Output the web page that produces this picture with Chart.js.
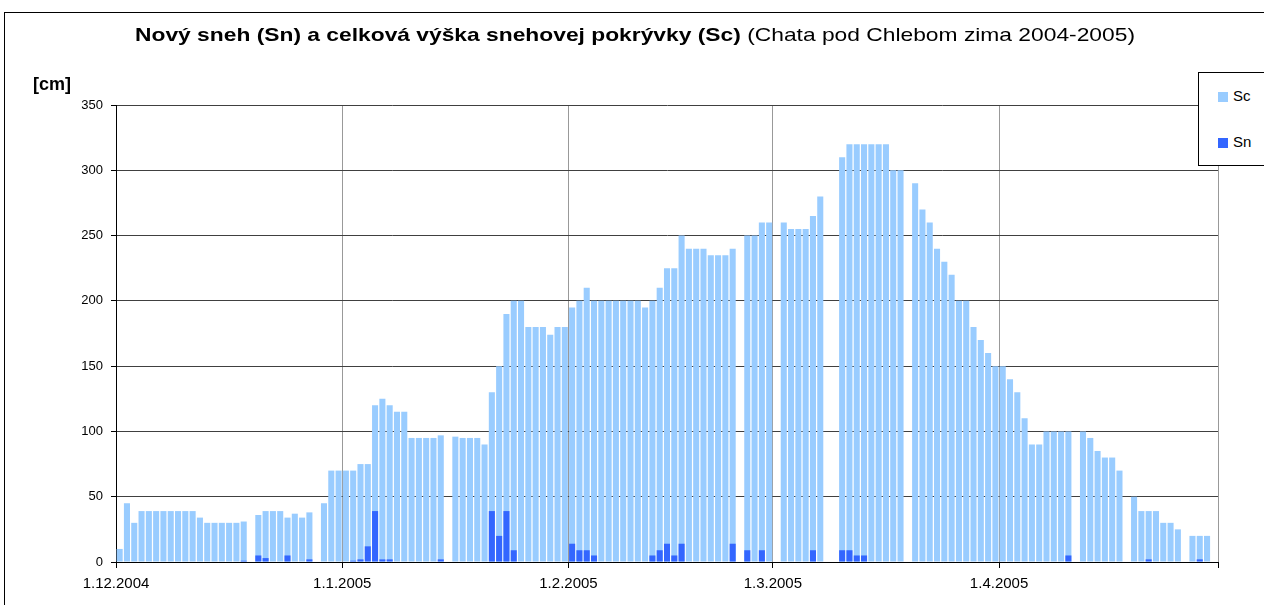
<!DOCTYPE html>
<html>
<head>
<meta charset="utf-8">
<script src="https://cdn.jsdelivr.net/npm/chart.js@4.4.1/dist/chart.umd.min.js"></script>
<style>
  html, body { margin: 0; padding: 0; background: #fff; overflow: hidden; }
  #wrap { position: relative; width: 1264px; height: 605px; font-family: "Liberation Sans", Arial, sans-serif; color: #000; }
  #frame { position: absolute; left: 4px; top: 12px; width: 1400px; height: 800px; border-left: 1px solid #000; border-top: 1px solid #000; }
  #chartBox { position: absolute; left: 0; top: 0; width: 1264px; height: 605px; }
  #title { position: absolute; left: 135px; top: 24px; font-size: 19px; white-space: nowrap; transform-origin: 0 0; }
  #title b { font-weight: bold; }
  #unit { position: absolute; left: 33px; top: 74px; font-size: 18px; font-weight: bold; }
  #legend { position: absolute; left: 1198px; top: 72px; width: 120px; height: 92px; border: 1px solid #000; background: #fff; font-size: 15px; }
  .item { position: absolute; left: 19px; height: 16px; line-height: 16px; }
  .sw { display: inline-block; width: 10px; height: 10px; margin-right: 5px; vertical-align: -1px; }
</style>
</head>
<body>
<div id="wrap">
  <div id="frame"></div>
  <div id="chartBox"><canvas id="snowChart"></canvas></div>
  <div id="title"><b>Nový sneh (Sn) a celková výška snehovej pokrývky (Sc)</b> (Chata pod Chlebom zima 2004-2005)</div>
  <div id="unit">[cm]</div>
  <div id="legend">
    <div class="item" style="top:15px"><span class="sw" style="background:#99CCFF"></span>Sc</div>
    <div class="item" style="top:61px"><span class="sw" style="background:#3366FF"></span>Sn</div>
  </div>
</div>
<script>
// --- DATA ---
// one value per day, 1.12.2004 .. 30.4.2005 (null = no measurement)
const monthLabels = ['1.12.2004', '1.1.2005', '1.2.2005', '1.3.2005', '1.4.2005'];
const monthDays = [31, 31, 28, 31, 30];

// Sc - total snow depth [cm]
const sc = [
    10, 45, 30, 39, 39, 39, 39, 39, 39, 39, 39, 34, 30, 30, 30, 30, 30, 31, null, 36, 39, 39, 39, 34, 37, 34, 38, null, 45, 70, 70,
    70, 70, 75, 75, 120, 125, 120, 115, 115, 95, 95, 95, 95, 97, null, 96, 95, 95, 95, 90, 130, 150, 190, 200, 200, 180, 180, 180, 174, 180, 180,
    195, 200, 210, 200, 200, 200, 200, 200, 200, 200, 195, 200, 210, 225, 225, 250, 240, 240, 240, 235, 235, 235, 240, null, 250, 250, 260, 260,
    null, 260, 255, 255, 255, 265, 280, null, null, 310, 320, 320, 320, 320, 320, 320, 300, 300, null, 290, 270, 260, 240, 230, 220, 200, 200, 180, 170, 160, 150,
    150, 140, 130, 110, 90, 90, 100, 100, 100, 100, null, 100, 95, 85, 80, 80, 70, null, 50, 39, 39, 39, 30, 30, 25, null, 20, 20, 20, null
];

// Sn - new snow [cm]
const sn = [
    0, 0, 0, 0, 0, 0, 0, 0, 0, 0, 0, 0, 0, 0, 0, 0, 0, 1, 0, 5, 3, 0, 0, 5, 0, 0, 2, 0, 0, 0, 0,
    0, 1, 2, 12, 39, 2, 2, 0, 0, 0, 0, 0, 0, 2, 0, 0, 0, 0, 0, 0, 39, 20, 39, 9, 0, 0, 0, 0, 0, 0, 0,
    14, 9, 9, 5, 0, 0, 0, 0, 0, 0, 0, 5, 9, 14, 5, 14, 0, 0, 0, 0, 0, 0, 14, 0, 9, 0, 9, 0,
    0, 0, 0, 0, 0, 9, 0, 0, 0, 9, 9, 5, 5, 0, 0, 0, 0, 0, 0, 0, 0, 0, 0, 0, 0, 0, 0, 0, 0, 0, 0,
    0, 0, 0, 0, 0, 0, 0, 0, 0, 5, 0, 0, 0, 0, 0, 0, 0, 0, 0, 0, 2, 0, 0, 0, 0, 0, 0, 2, 0, 0
];

const yTicks = [0, 50, 100, 150, 200, 250, 300, 350];

// month start positions on the day axis
const monthStarts = [0];
monthDays.forEach(d => monthStarts.push(monthStarts[monthStarts.length - 1] + d));
const totalDays = monthStarts[monthStarts.length - 1];

const toPoints = arr => arr.map((v, i) => ({ x: i + 0.5, y: v }));

// stretch the title to the width it has in the original
const title = document.getElementById('title');
title.style.transform = 'scaleX(' + (1000 / title.getBoundingClientRect().width) + ')';

const ctx = document.getElementById('snowChart').getContext('2d');
new Chart(ctx, {
    type: 'bar',
    data: {
        datasets: [
            {
                label: 'Sc',
                data: toPoints(sc),
                backgroundColor: '#99CCFF',
                grouped: false,
                order: 1,
                barPercentage: 0.83,
                categoryPercentage: 1
            },
            {
                label: 'Sn',
                data: toPoints(sn),
                backgroundColor: '#3366FF',
                grouped: false,
                order: 0,
                barPercentage: 0.83,
                categoryPercentage: 1
            }
        ]
    },
    options: {
        responsive: true,
        maintainAspectRatio: false,
        animation: false,
        layout: { padding: { top: 105, right: 46, left: 0, bottom: 0 } },
        plugins: {
            legend: { display: false },
            tooltip: { enabled: false }
        },
        scales: {
            x: {
                type: 'linear',
                offset: false,
                min: 0,
                max: totalDays,
                afterBuildTicks: s => { s.ticks = monthStarts.map(v => ({ value: v })); },
                afterFit: s => { s.height = 43; },
                grid: { offset: false, color: '#999999', lineWidth: 1, tickLength: 6, tickColor: '#000' },
                border: { display: true, color: '#000', width: 1 },
                ticks: {
                    autoSkip: false,
                    maxRotation: 0,
                    padding: 7,
                    color: '#000',
                    font: { family: 'Liberation Sans', size: 15 },
                    callback: (v, i) => monthLabels[i] || ''
                }
            },
            y: {
                min: 0,
                max: 350,
                afterBuildTicks: s => { s.ticks = yTicks.map(v => ({ value: v })); },
                afterFit: s => { s.width = 116; },
                grid: { color: '#404040', lineWidth: 1, tickLength: 5, tickColor: '#000' },
                border: { display: true, color: '#000', width: 1 },
                ticks: {
                    padding: 8,
                    color: '#000',
                    font: { family: 'Liberation Sans', size: 13 }
                }
            }
        }
    }
});
</script>
</body>
</html>
